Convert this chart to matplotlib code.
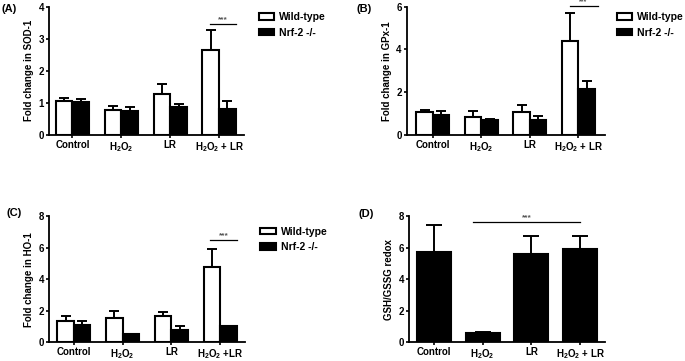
import matplotlib
matplotlib.use("Agg")
import matplotlib.pyplot as plt
import numpy as np

plt.rcParams['font.family'] = ['Liberation Sans', 'DejaVu Sans']
plt.rcParams['font.weight'] = 'bold'
plt.rcParams['mathtext.fontset'] = 'custom'
plt.rcParams['mathtext.rm'] = 'Liberation Sans'
plt.rcParams['mathtext.default'] = 'regular'

groups = ["Control", "H$_2$O$_2$", "LR", "H$_2$O$_2$ + LR"]
groups_c = ["Control", "H$_2$O$_2$", "LR", "H$_2$O$_2$ +LR"]

# panel A - SOD-1
sod_wt = [1.07, 0.79, 1.27, 2.64]
sod_wt_err = [0.08, 0.10, 0.31, 0.62]
sod_ko = [1.03, 0.75, 0.87, 0.82]
sod_ko_err = [0.09, 0.12, 0.09, 0.25]

# panel B - GPx-1
gpx_wt = [1.08, 0.85, 1.07, 4.42]
gpx_wt_err = [0.09, 0.25, 0.35, 1.28]
gpx_ko = [0.93, 0.69, 0.72, 2.13]
gpx_ko_err = [0.19, 0.04, 0.19, 0.40]

# panel C - HO-1
ho_wt = [1.36, 1.52, 1.69, 4.80]
ho_wt_err = [0.32, 0.47, 0.23, 1.15]
ho_ko = [1.12, 0.52, 0.80, 1.00]
ho_ko_err = [0.24, 0.03, 0.23, 0.05]

# panel D - GSH/GSSG
gsh = [5.75, 0.58, 5.58, 5.95]
gsh_err = [1.67, 0.08, 1.15, 0.80]


def style_axis(ax, ylim, yticks, ylabel, xlim):
    ax.spines['top'].set_visible(False)
    ax.spines['right'].set_visible(False)
    ax.spines['left'].set_linewidth(1.3)
    ax.spines['bottom'].set_linewidth(1.3)
    ax.set_ylim(*ylim)
    ax.set_yticks(yticks)
    ax.set_xlim(*xlim)
    ax.tick_params(axis='both', width=1.2, length=2.5, labelsize=7, pad=1)
    ax.set_ylabel(ylabel, fontsize=7, fontweight='bold', labelpad=3)


def pair_panel(ax, wt, wt_err, ko, ko_err, labels, cap):
    x = np.arange(len(wt))
    w = 0.34
    ax.bar(x - w / 2, wt, w, color='white', edgecolor='black', linewidth=1.5,
           label='Wild-type', zorder=2)
    ax.bar(x + w / 2, ko, w, color='black', edgecolor='black', linewidth=1.5,
           label='Nrf-2 -/-', zorder=2)
    ax.errorbar(x - w / 2, wt, yerr=[np.zeros(len(wt)), wt_err], fmt='none',
                ecolor='black', elinewidth=1.4, capsize=cap, capthick=1.4, zorder=1)
    ax.errorbar(x + w / 2, ko, yerr=[np.zeros(len(ko)), ko_err], fmt='none',
                ecolor='black', elinewidth=1.4, capsize=cap, capthick=1.4, zorder=1)
    ax.set_xticks(x)
    ax.set_xticklabels(labels)


fig = plt.figure(figsize=(6.85, 3.61), dpi=100)

axA = fig.add_axes([0.0715, 0.626, 0.2847, 0.3554])
pair_panel(axA, sod_wt, sod_wt_err, sod_ko, sod_ko_err, groups, 3.3)
style_axis(axA, (0, 4), [0, 1, 2, 3, 4], "Fold change in SOD-1", (-0.48, 3.51))
axA.plot([2.82, 3.35], [3.46, 3.46], color='black', lw=0.9)
axA.text(3.08, 3.5, "***", ha='center', va='bottom', fontsize=6, color='#555555')

axB = fig.add_axes([0.5937, 0.626, 0.2895, 0.3554])
pair_panel(axB, gpx_wt, gpx_wt_err, gpx_ko, gpx_ko_err, groups, 3.3)
style_axis(axB, (0, 6), [0, 2, 4, 6], "Fold change in GPx-1", (-0.54, 3.55))
axB.plot([2.82, 3.4], [6.03, 6.03], color='black', lw=0.9, clip_on=False)
axB.text(3.1, 6.05, "***", ha='center', va='bottom', fontsize=5, color='#555555')

axC = fig.add_axes([0.0715, 0.052, 0.2861, 0.349])
pair_panel(axC, ho_wt, ho_wt_err, ho_ko, ho_ko_err, groups_c, 3.3)
style_axis(axC, (0, 8), [0, 2, 4, 6, 8], "Fold change in HO-1", (-0.51, 3.51))
axC.plot([2.8, 3.35], [6.47, 6.47], color='black', lw=0.9)
axC.text(3.07, 6.52, "***", ha='center', va='bottom', fontsize=6, color='#555555')

axD = fig.add_axes([0.5971, 0.052, 0.2861, 0.349])
xd = np.arange(len(gsh))
axD.bar(xd, gsh, 0.7, color='black', edgecolor='black', linewidth=1.5, zorder=2)
axD.errorbar(xd, gsh, yerr=[np.zeros(len(gsh)), gsh_err], fmt='none',
             ecolor='black', elinewidth=1.4, capsize=6, capthick=1.4, zorder=1)
axD.set_xticks(xd)
axD.set_xticklabels(groups)
style_axis(axD, (0, 8), [0, 2, 4, 6, 8], "GSH/GSSG redox", (-0.51, 3.51))
axD.plot([0.8, 3.0], [7.62, 7.62], color='black', lw=0.9)
axD.text(1.9, 7.67, "***", ha='center', va='bottom', fontsize=6, color='#555555')

# legends
for ax, pos in [(axA, (0.366, 0.99)), (axB, (0.888, 0.99)), (axC, (0.368, 0.395))]:
    ax.legend(loc='upper left', bbox_to_anchor=pos, bbox_transform=fig.transFigure,
              frameon=False, fontsize=7.5, handlelength=1.45, handleheight=0.6,
              labelspacing=0.55, handletextpad=0.5, borderpad=0.3)

fig.text(0.002, 0.99, "(A)", fontsize=8, fontweight='bold', va='top')
fig.text(0.521, 0.99, "(B)", fontsize=8, fontweight='bold', va='top')
fig.text(0.01, 0.425, "(C)", fontsize=8, fontweight='bold', va='top')
fig.text(0.523, 0.42, "(D)", fontsize=8, fontweight='bold', va='top')

fig.savefig("out.png", dpi=100)
